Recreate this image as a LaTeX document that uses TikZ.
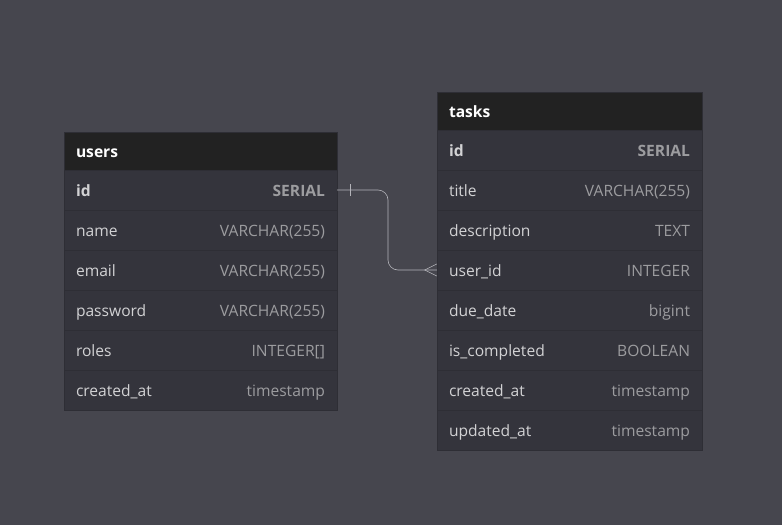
\documentclass[tikz,border=0pt]{standalone}
\usepackage{fontspec}
\setmainfont{Open Sans}
\usetikzlibrary{positioning}
\definecolor{canvas}{HTML}{46464E}
\definecolor{headfill}{HTML}{222222}
\definecolor{rowfill}{HTML}{34343C}
\definecolor{rowline}{HTML}{2E2E35}
\definecolor{fieldtext}{HTML}{D2D2D4}
\definecolor{typetext}{HTML}{9C9C9F}
\definecolor{linkline}{HTML}{B4B4BA}
\newcommand{\cellfont}{\fontsize{15.6}{18}\selectfont}

\begin{document}
\begin{tikzpicture}[x=1pt,y=-1pt,font=\cellfont]
  \tikzstyle{head}  =[fill=headfill, draw=rowline, minimum height=38pt, inner sep=0pt]
  \tikzstyle{row}   =[fill=rowfill, draw=rowline, minimum height=40pt, inner sep=0pt]
  \tikzstyle{cell}  =[inner sep=0pt, text height=11pt, text depth=3.5pt, yshift=-2.5pt]
  \tikzstyle{field} =[cell, anchor=west, text=fieldtext]
  \tikzstyle{type}  =[cell, anchor=east, text=typetext]
  \tikzstyle{key}   =[font=\cellfont\bfseries]
  \tikzstyle{title} =[cell, anchor=west, text=white, font=\cellfont\bfseries]
  \useasboundingbox[fill=canvas] (0,0) rectangle (782,525);
  % users
  \node[head, minimum width=273pt] (uh) at (200.5,151) {};
  \node[title] (uhl) at ([xshift=12pt]uh.west) {users};
  \node[row, minimum width=273pt] (u1) at (200.5,190) {};
  \node[field, key] (u1f) at ([xshift=12pt]u1.west) {id};
  \node[type, key] (u1t) at ([xshift=-12pt]u1.east) {SERIAL};
  \foreach \fname/\ftype [count=\i from 2] in {name/VARCHAR(255), email/VARCHAR(255),
      password/VARCHAR(255), roles/INTEGER[], created\_at/timestamp} {
    \node[row, minimum width=273pt] (u\i) at (200.5,150+40*\i) {};
    \node[field] (u\i f) at ([xshift=12pt]u\i.west) {\fname};
    \node[type] (u\i t) at ([xshift=-12pt]u\i.east) {\ftype};
  }
  % tasks
  \node[head, minimum width=265pt] (th) at (569.5,111) {};
  \node[title] (thl) at ([xshift=12pt]th.west) {tasks};
  \node[row, minimum width=265pt] (t1) at (569.5,150) {};
  \node[field, key] (t1f) at ([xshift=12pt]t1.west) {id};
  \node[type, key] (t1t) at ([xshift=-12pt]t1.east) {SERIAL};
  \foreach \fname/\ftype [count=\i from 2] in {title/VARCHAR(255), description/TEXT,
      user\_id/INTEGER, due\_date/bigint, is\_completed/BOOLEAN,
      created\_at/timestamp, updated\_at/timestamp} {
    \node[row, minimum width=265pt] (t\i) at (569.5,110+40*\i) {};
    \node[field] (t\i f) at ([xshift=12pt]t\i.west) {\fname};
    \node[type] (t\i t) at ([xshift=-12pt]t\i.east) {\ftype};
  }
  % relation users.id -< tasks.user_id
  \coordinate (bend) at (388,230);
  \draw[linkline, semithick, rounded corners=10pt] (u1.east) -| (bend) |- (t4.west);
  \draw[linkline, semithick] ([xshift=13pt,yshift=-6pt]u1.east) -- ([xshift=13pt,yshift=6pt]u1.east);
  \draw[linkline, semithick] ([yshift=-6pt]t4.west) -- ([xshift=-12pt]t4.west) -- ([yshift=6pt]t4.west);
\end{tikzpicture}
\end{document}
